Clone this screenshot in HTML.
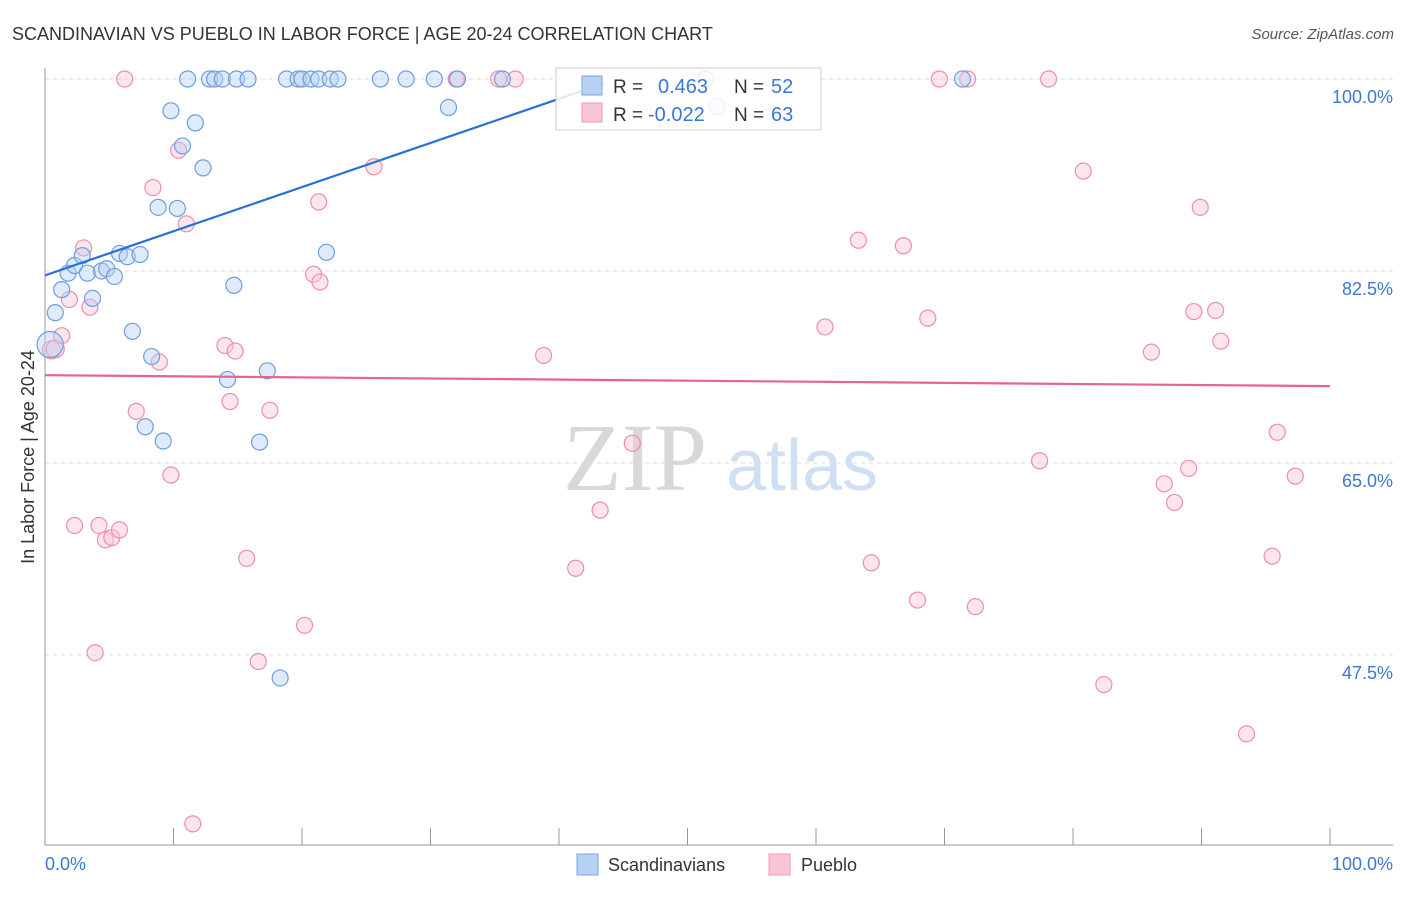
<!DOCTYPE html>
<html><head><meta charset="utf-8"><style>
body{margin:0;background:#fff;font-family:"Liberation Sans",sans-serif;}
svg text{font-family:"Liberation Sans",sans-serif;}
</style></head><body>
<svg id="chart" width="1406" height="892">
<text x="12" y="40" font-size="18" fill="#333">SCANDINAVIAN VS PUEBLO IN LABOR FORCE | AGE 20-24 CORRELATION CHART</text>
<text x="1394" y="39" font-size="15" fill="#555" font-style="italic" text-anchor="end">Source: ZipAtlas.com</text>
<g>
<text x="635" y="490" font-size="96" fill="#d8d8d8" style="font-family:'Liberation Serif',serif" text-anchor="middle">ZIP</text>
<text x="802" y="490" font-size="72" fill="#cfe0f3" text-anchor="middle">atlas</text>
</g>
<g id="grid"></g>
<g id="axes"></g>
<g id="points"></g>
<g id="trends"></g>
<text transform="translate(34,457) rotate(-90)" font-size="18" fill="#333" text-anchor="middle">In Labor Force | Age 20-24</text>
<text x="45" y="870" font-size="18" fill="#3a78d4">0.0%</text>
<text x="1393" y="870" font-size="18" fill="#3a78d4" text-anchor="end">100.0%</text>
<g>
<rect x="556" y="68" width="265" height="62" fill="#fff" fill-opacity="0.85" stroke="#ccc"/>
<rect x="582" y="76" width="20" height="19" fill="#b7d1f3" stroke="#7aa6e6"/>
<rect x="582" y="103" width="20" height="19" fill="#f9c5d4" stroke="#ee9ab3"/>
<text x="613" y="93" font-size="19" fill="#333">R =</text>
<text x="658" y="93" font-size="20" fill="#3a78d4">0.463</text>
<text x="734" y="93" font-size="19" fill="#333">N =</text>
<text x="771" y="93" font-size="20" fill="#3a78d4">52</text>
<text x="613" y="121" font-size="19" fill="#333">R =</text>
<text x="648" y="121" font-size="20" fill="#3a78d4">-0.022</text>
<text x="734" y="121" font-size="19" fill="#333">N =</text>
<text x="771" y="121" font-size="20" fill="#3a78d4">63</text>
</g>
<g>
<rect x="577" y="854" width="21" height="21" fill="#b7d1f3" stroke="#7aa6e6"/>
<text x="608" y="871" font-size="18" fill="#333">Scandinavians</text>
<rect x="769" y="854" width="21" height="21" fill="#f9c5d4" stroke="#ee9ab3"/>
<text x="801" y="871" font-size="18" fill="#333">Pueblo</text>
</g>
</svg>
<script>
const yTicks=[100,82.5,65,47.5];
const xTicks=[0,10,20,30,40,50,60,70,80,90,100];
const bluePx=[[50,345],[55,313],[62,290],[68,273],[75,265],[82,256],[88,273],[93,298],[102,271],[107,269],[114,277],[120,253],[127,257],[140,254],[133,331],[152,357],[145,427],[163,441],[158,207],[177,208],[171,111],[183,146],[195,123],[203,168],[188,79],[210,79],[215,79],[222,79],[237,79],[248,79],[287,79],[298,79],[302,79],[311,79],[319,79],[330,79],[338,79],[381,79],[406,79],[434,79],[458,79],[503,79],[449,107],[234,285],[228,380],[267,371],[260,442],[326,252],[280,678],[705,79],[717,106],[963,79]];
const pinkPx=[[52,350],[55,349],[62,336],[70,300],[83,248],[90,307],[75,525],[95,653],[99,526],[106,540],[112,537],[119,530],[136,411],[153,188],[160,362],[171,475],[178,150],[186,224],[193,824],[225,346],[230,402],[235,351],[247,558],[258,661],[270,410],[305,625],[319,202],[314,274],[320,282],[374,167],[456,79],[498,79],[515,79],[543,355],[576,568],[600,510],[632,443],[825,327],[859,240],[871,563],[904,246],[918,600],[928,318],[940,79],[968,79],[975,607],[1039,461],[1048,79],[1083,171],[1104,685],[1151,352],[1164,484],[1174,502],[1189,468],[1194,312],[1200,207],[1215,311],[1221,341],[1247,734],[1277,432],[1272,556],[1295,476],[125,79]];
const blueX=bluePx.map(p=>+((p[0]-45)/12.85).toFixed(1));
const blueY=bluePx.map(p=>+(100-(p[1]-79)/10.97).toFixed(1));
const pinkX=pinkPx.map(p=>+((p[0]-45)/12.85).toFixed(1));
const pinkY=pinkPx.map(p=>+(100-(p[1]-79)/10.97).toFixed(1));
const blueTrend=[0,82.1,43.5,99.6];
const pinkTrend=[0,73.0,100,72.0];
const NS="http://www.w3.org/2000/svg";
const sx=v=>45+v*12.85, sy=v=>79+(100-v)*10.97;
function mk(parent,tag,attrs){const e=document.createElementNS(NS,tag);for(const k in attrs)e.setAttribute(k,attrs[k]);document.getElementById(parent).appendChild(e);return e;}
yTicks.forEach(t=>{
 const l=mk('grid','line',{x1:45,x2:1393,y1:sy(t),y2:sy(t),stroke:'#ddd','stroke-dasharray':'4,4'});
 
 
 const tx=mk('grid','text',{x:1393,y:sy(t)+24,'font-size':18,fill:'#3a78d4','text-anchor':'end'});
 tx.textContent=t.toFixed(1)+'%';
 
 
});
const ax=mk('axes','line',{x1:45,x2:45,y1:68,y2:845,stroke:'#999'});


const bx=mk('axes','line',{x1:45,x2:1393,y1:845,y2:845,stroke:'#999'});


xTicks.forEach(t=>{
 const l=mk('axes','line',{x1:sx(t),x2:sx(t),y1:828,y2:845,stroke:'#999'});
 
 
});
function dots(xs,ys,fill,stroke,name){xs.forEach((x,i)=>{
 const big=(name==='scandinavian-point'&&i===0)||(name==='pueblo-point'&&i<2);
 const c=mk('points','circle',{cx:sx(x),cy:sy(ys[i]),r:big?(i===0&&name==='scandinavian-point'?13:9):8,fill:fill,'fill-opacity':0.45,stroke:stroke,'stroke-width':1.2});
 
 
});}
dots(pinkX,pinkY,'#f9c5d4','#ee8fab','pueblo-point');
dots(blueX,blueY,'#b7d1f3','#6d9ee0','scandinavian-point');
const bt=mk('trends','line',{x1:sx(blueTrend[0]),y1:sy(blueTrend[1]),x2:sx(blueTrend[2]),y2:sy(blueTrend[3]),stroke:'#2a6fd6','stroke-width':2.2});


const pt=mk('trends','line',{x1:sx(pinkTrend[0]),y1:sy(pinkTrend[1]),x2:sx(pinkTrend[2]),y2:sy(pinkTrend[3]),stroke:'#e8638e','stroke-width':2.2});


</script>
</body></html>
